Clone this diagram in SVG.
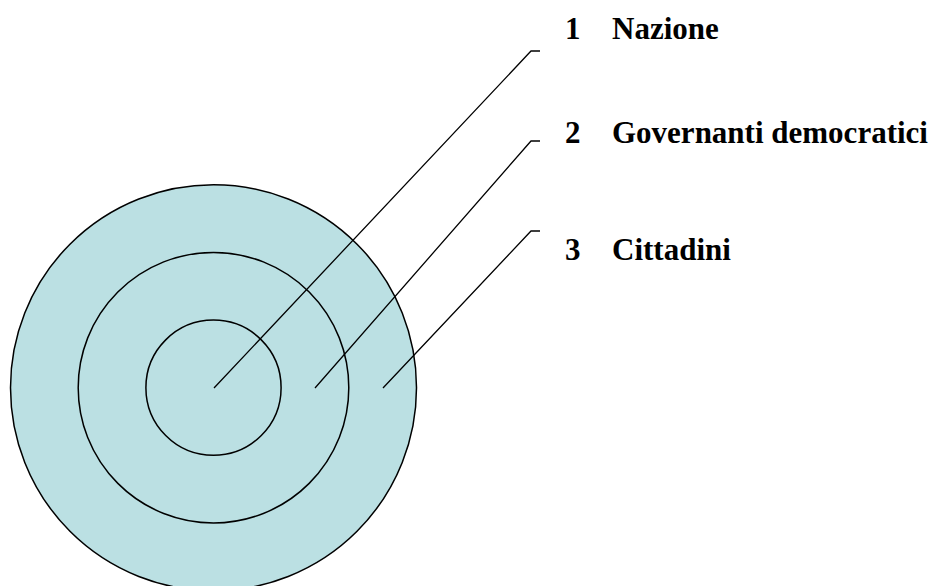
<svg xmlns="http://www.w3.org/2000/svg" width="938" height="586" viewBox="0 0 938 586">
<style>
.ring{fill:#BBE0E3;stroke:#000;stroke-width:1.5}
.lead{fill:none;stroke:#000;stroke-width:1.3}
.lbl{font-family:"Liberation Serif","Times New Roman",serif;font-weight:bold;font-size:31px;fill:#000}
</style>
<rect width="938" height="586" fill="#fff"/>
<g id="ring3"><circle class="ring" cx="213.5" cy="387.7" r="203"/></g>
<g id="ring2"><circle class="ring" cx="213.5" cy="387.7" r="135.3"/></g>
<g id="ring1"><circle class="ring" cx="213.5" cy="387.7" r="67.6"/></g>
<g id="connectors">
<polyline class="lead" points="214,388 531,51 540,51"/>
<polyline class="lead" points="315,388 531,141 540,141"/>
<polyline class="lead" points="383,388 531,231 540,231"/>
</g>
<g id="label1"><text class="lbl" x="565" y="39">1</text><text class="lbl" x="612" y="39">Nazione</text></g>
<g id="label2"><text class="lbl" x="565" y="143">2</text><text class="lbl" x="612" y="143">Governanti democratici</text></g>
<g id="label3"><text class="lbl" x="565" y="260">3</text><text class="lbl" x="612" y="260">Cittadini</text></g>
</svg>
